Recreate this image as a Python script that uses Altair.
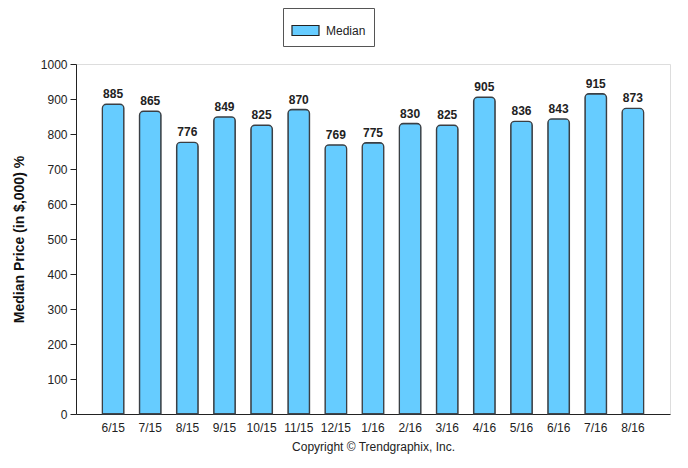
import altair as alt
import pandas as pd

months = ["6/15", "7/15", "8/15", "9/15", "10/15", "11/15", "12/15", "1/16",
          "2/16", "3/16", "4/16", "5/16", "6/16", "7/16", "8/16"]
median = [885, 865, 776, 849, 825, 870, 769, 775, 830, 825, 905, 836, 843, 915, 873]
series = ["Median"] * len(months)
y_ticks = [0, 100, 200, 300, 400, 500, 600, 700, 800, 900, 1000]

df = pd.DataFrame({"month": months, "price": median, "series": series})

FONT = "Liberation Sans"

x_enc = alt.X(
    "month:N", sort=months,
    scale=alt.Scale(paddingInner=0.42, paddingOuter=0.71),
    axis=alt.Axis(title="Copyright © Trendgraphix, Inc.", labelAngle=0, ticks=False,
                  labelFont=FONT, labelFontSize=12, labelColor="#222",
                  titleFont=FONT, titleFontSize=12, titleFontWeight="normal",
                  titleColor="#222", titlePadding=8, labelPadding=8,
                  domainColor="#222"),
)

y_axis = alt.Axis(title="Median Price (in $,000) %", values=y_ticks, format="d",
                  grid=False, tickSize=6, tickColor="#222", domainColor="#222",
                  labelFont=FONT, labelFontSize=12, labelColor="#222", labelPadding=3,
                  labelOverlap=False,
                  titleFont=FONT, titleFontSize=14, titleFontWeight="bold",
                  titleColor="#111", titlePadding=14)
y_enc = alt.Y("price:Q", scale=alt.Scale(domain=[0, 1000]), axis=y_axis)

bars = alt.Chart(df).mark_bar(
    stroke="#3a3f44", strokeWidth=1.3,
    cornerRadiusTopLeft=4, cornerRadiusTopRight=4,
).encode(
    x=x_enc,
    y=y_enc,
    fill=alt.Fill("series:N", scale=alt.Scale(range=["#66ccff"]),
                  legend=alt.Legend(title=None, orient="none", legendX=207, legendY=-56,
                                    direction="horizontal",
                                    symbolType="M-1,-0.37H1V0.37H-1Z", symbolSize=730,
                                    symbolStrokeColor="#222", symbolStrokeWidth=1.2,
                                    labelFont=FONT, labelFontSize=12, labelColor="#222",
                                    padding=8, strokeColor="#555", fillColor="white",
                                    cornerRadius=0, labelOffset=6)),
)

labels = alt.Chart(df).mark_text(
    dy=-10, font=FONT, fontSize=12, fontWeight="bold", color="#222"
).encode(x=alt.X("month:N", sort=months), y=y_enc, text="price:Q")

chart = (bars + labels).properties(
    width=594, height=350,
    autosize=alt.AutoSizeParams(type="none"),
    padding={"left": 68, "top": 56, "right": 10, "bottom": 50},
).configure_view(stroke=None).configure(background="white")

chart.save("out.html", embed_options={"renderer": "svg", "actions": False})
